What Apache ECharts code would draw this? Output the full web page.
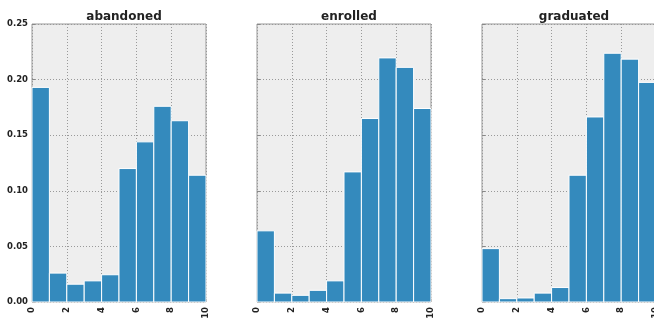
<!DOCTYPE html>
<html>
<head>
    <meta charset="utf-8">
    <title>abandoned / enrolled / graduated</title>
    <script src="https://cdn.jsdelivr.net/npm/echarts@6/dist/echarts.min.js"></script>
    <style>
        html, body { margin: 0; padding: 0; background: #fff; }
        #main { width: 654px; height: 320px; }
    </style>
</head>
<body>
<div id="main"></div>
<script>
// bin edges (0..10, width 1)
const binStart = [0, 1, 2, 3, 4, 5, 6, 7, 8, 9];
const binWidth = 1;

const panelNames = ['abandoned', 'enrolled', 'graduated'];
const abandoned = [0.193, 0.026, 0.016, 0.019, 0.0245, 0.120, 0.144, 0.176, 0.163, 0.114];
const enrolled  = [0.064, 0.008, 0.006, 0.0105, 0.019, 0.117, 0.165, 0.2195, 0.211, 0.174];
const graduated = [0.048, 0.003, 0.0036, 0.008, 0.013, 0.114, 0.1664, 0.2237, 0.2184, 0.1975];
const panelValues = [abandoned, enrolled, graduated];

const chart = echarts.init(document.getElementById('main'));

const panelLeft = [32, 257, 482];
const grids = [], xAxes = [], yAxes = [], series = [], titles = [];

panelNames.forEach((name, i) => {
    grids.push({
        left: panelLeft[i], top: 24, width: 174, height: 278,
        outerBoundsMode: 'none', containLabel: false,
        show: true, backgroundColor: '#eeeeee', borderColor: '#999999', borderWidth: 1
    });
    titles.push({
        text: name, left: panelLeft[i] + 87, top: 6, textAlign: 'center',
        textStyle: { fontSize: 12, fontWeight: 'bold', color: '#222', fontFamily: 'DejaVu Sans' }
    });
    xAxes.push({
        gridIndex: i, type: 'value', min: 0, max: 10, interval: 2,
        axisLine: { show: false },
        axisTick: { inside: true, length: 3, lineStyle: { color: '#888' } },
        axisLabel: { rotate: 90, fontSize: 8.5, fontWeight: 'bold', color: '#222', margin: 5, fontFamily: 'DejaVu Sans' },
        splitLine: { show: true, lineStyle: { color: '#999', type: [1, 2] } }
    });
    yAxes.push({
        gridIndex: i, type: 'value', min: 0, max: 0.25, interval: 0.05,
        axisLine: { show: false },
        axisTick: { inside: true, length: 3, lineStyle: { color: '#888' } },
        axisLabel: {
            fontSize: 8.5, fontWeight: 'bold', color: '#222', margin: 4, fontFamily: 'DejaVu Sans',
            formatter: i === 0 ? (v => v.toFixed(2)) : (() => '')
        },
        splitLine: { show: true, lineStyle: { color: '#999', type: [1, 2] } }
    });
    series.push({
        type: 'custom',
        xAxisIndex: i, yAxisIndex: i,
        data: binStart.map((b, k) => [b, b + binWidth, panelValues[i][k]]),
        encode: { x: [0, 1], y: 2 },
        renderItem: (params, api) => {
            const p0 = api.coord([api.value(0), api.value(2)]);
            const p1 = api.coord([api.value(1), 0]);
            return {
                type: 'rect',
                shape: { x: p0[0], y: p0[1], width: p1[0] - p0[0], height: p1[1] - p0[1] },
                style: { fill: '#348ABD', stroke: '#ffffff', lineWidth: 1 }
            };
        }
    });
});

chart.setOption({
    animation: false,
    title: titles,
    grid: grids,
    xAxis: xAxes,
    yAxis: yAxes,
    series: series
});
</script>
</body>
</html>
